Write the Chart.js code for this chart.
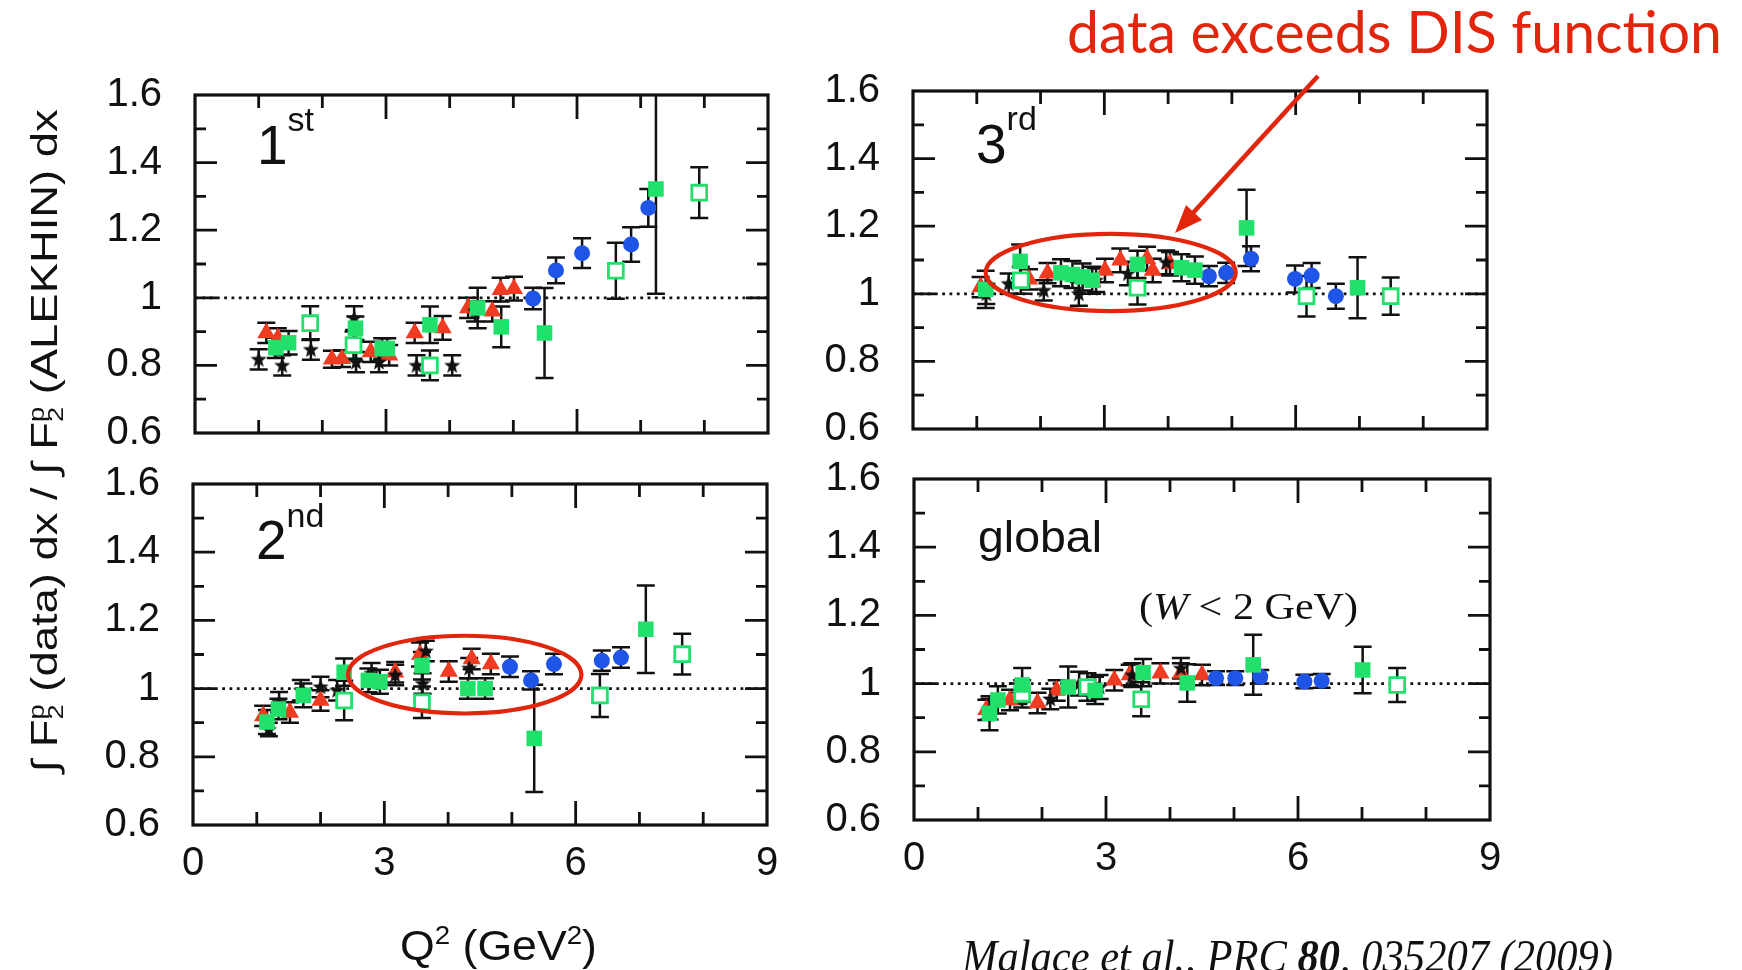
<!DOCTYPE html>
<html>
<head>
<meta charset="utf-8">
<script src="https://cdn.jsdelivr.net/npm/chart.js@4.4.1/dist/chart.umd.min.js"></script>
<style>
  html, body { margin: 0; padding: 0; background: #fff; }
  #page { position: relative; width: 1742px; height: 970px; overflow: hidden; }
  canvas { position: absolute; left: 0; top: 0; }
  .txt { position: absolute; left: 0; top: 0; white-space: nowrap; line-height: 1.15;
         font-family: 'Liberation Sans', Arial, sans-serif; color: #111; }
  .sup { font-size: 0.62em; vertical-align: 0.62em; }
  .serif { font-family: 'Liberation Serif', 'Times New Roman', serif; }
  #arrow { position: absolute; left: 0; top: 0; }
</style>
</head>
<body>
<div id="page">
  <canvas id="c1" width="1742" height="970"></canvas>
  <canvas id="c2" width="1742" height="970"></canvas>
  <canvas id="c3" width="1742" height="970"></canvas>
  <canvas id="c4" width="1742" height="970"></canvas>

  <svg id="arrow" width="1742" height="970">
    <line x1="1318" y1="76" x2="1192" y2="214" stroke="#e1260d" stroke-width="4.5"/>
    <polygon points="1175,233 1202,220 1186,205" fill="#e1260d"/>
  </svg>

  <div class="txt" id="tRed" style="font-family: Lato, 'Open Sans', sans-serif; font-size: 58px; color: #e1260d;">data exceeds DIS function</div>
  <div class="txt" id="tYtitle" style="font-size: 36px;">∫ F<span style="font-size:0.6em; position:relative; top:0.3em;">2</span><span style="font-size:0.6em; position:relative; top:-0.6em; margin-left:-0.56em;">p</span> (data) dx / ∫ F<span style="font-size:0.6em; position:relative; top:0.3em;">2</span><span style="font-size:0.6em; position:relative; top:-0.6em; margin-left:-0.56em;">p</span> (ALEKHIN) dx</div>
  <div class="txt" id="tXtitle" style="font-size: 42px;">Q<span class="sup">2</span> (GeV<span class="sup">2</span>)</div>
  <div class="txt" id="tFirst" style="font-size: 55px;">1<span style="font-size:34px; vertical-align:33px;">st</span></div>
  <div class="txt" id="tThird" style="font-size: 55px;">3<span style="font-size:34px; vertical-align:33px;">rd</span></div>
  <div class="txt" id="tSecond" style="font-size: 55px;">2<span style="font-size:34px; vertical-align:32px;">nd</span></div>
  <div class="txt" id="tGlobal" style="font-size: 44px;">global</div>
  <div class="txt serif" id="tW" style="font-size: 38px;">(<i>W</i> &lt; 2 GeV)</div>
  <div class="txt serif" id="tCite" style="font-size: 46px;"><i>Malace et al., PRC <b>80</b>, 035207 (2009)</i></div>
</div>

<script>
// axis ticks
const xTickValues = [0, 3, 6, 9];
const xTickLabels = ['0', '3', '6', '9'];
const yTickValues = [0.6, 0.8, 1.0, 1.2, 1.4, 1.6];
const yTickLabels = ['0.6', '0.8', '1', '1.2', '1.4', '1.6'];
const refLine = 1.0;

// rows: [Q2 (GeV^2), ratio, error]
// 1st resonance region
const starsFirst = [[1.0, 0.818, 0.03], [1.37, 0.80, 0.03], [1.82, 0.847, 0.03], [2.5, 0.94, 0.035], [2.53, 0.81, 0.03], [2.89, 0.81, 0.03], [3.48, 0.80, 0.03], [4.04, 0.80, 0.03], [4.4, 0.96, 0.03]];
const trianglesFirst = [[1.12, 0.896, 0.03], [1.30, 0.88, 0.03], [2.15, 0.818, 0.025], [2.31, 0.82, 0.025], [2.76, 0.84, 0.03], [3.05, 0.83, 0.03], [3.45, 0.896, 0.03], [3.89, 0.911, 0.035], [4.29, 0.97, 0.03], [4.67, 0.96, 0.03], [4.80, 1.024, 0.035], [5.01, 1.027, 0.035]];
const greenFirst = [[1.27, 0.852, 0.03], [1.47, 0.867, 0.035], [2.52, 0.91, 0.035], [2.94, 0.85, 0.03], [3.02, 0.85, 0.03], [3.69, 0.92, 0.054], [4.44, 0.97, 0.06], [4.81, 0.914, 0.06], [5.49, 0.896, 0.133], [7.24, 1.322, 0.31]];
const openFirst = [[1.81, 0.925, 0.05], [2.49, 0.86, 0.04], [3.69, 0.80, 0.044], [6.61, 1.08, 0.083], [7.92, 1.311, 0.075]];
const blueFirst = [[5.31, 0.998, 0.032], [5.67, 1.081, 0.038], [6.08, 1.132, 0.044], [6.85, 1.158, 0.051], [7.12, 1.266, 0.056]];

// 2nd resonance region
const starsSecond = [[1.19, 0.88, 0.02], [1.35, 0.96, 0.03], [1.69, 0.995, 0.03], [2.0, 1.005, 0.03], [2.26, 0.995, 0.03], [2.8, 1.045, 0.03], [3.17, 1.04, 0.03], [3.65, 1.11, 0.03], [3.6, 1.015, 0.03], [4.33, 1.06, 0.03]];
const trianglesSecond = [[1.1, 0.92, 0.03], [1.52, 0.93, 0.03], [2.0, 0.965, 0.03], [3.17, 1.048, 0.03], [3.56, 1.1, 0.035], [4.01, 1.05, 0.03], [4.37, 1.087, 0.03], [4.67, 1.072, 0.03]];
const greenSecond = [[1.16, 0.902, 0.035], [1.34, 0.94, 0.03], [1.73, 0.98, 0.035], [2.37, 1.048, 0.04], [2.75, 1.024, 0.035], [2.93, 1.02, 0.035], [3.59, 1.067, 0.04], [4.31, 1.0, 0.03], [4.58, 1.0, 0.03], [5.35, 0.854, 0.157], [7.10, 1.174, 0.128]];
const openSecond = [[2.37, 0.965, 0.058], [3.59, 0.96, 0.046], [6.38, 0.98, 0.063], [7.67, 1.101, 0.06]];
const blueSecond = [[4.97, 1.064, 0.03], [5.30, 1.024, 0.027], [5.66, 1.072, 0.03], [6.41, 1.082, 0.03], [6.71, 1.091, 0.03]];

// 3rd resonance region
const starsThird = [[1.15, 1.0, 0.03], [1.5, 1.03, 0.03], [2.05, 1.01, 0.03], [2.6, 1.0, 0.035], [2.87, 1.04, 0.035], [3.37, 1.06, 0.035], [3.97, 1.093, 0.035]];
const trianglesThird = [[1.06, 1.02, 0.03], [1.82, 1.043, 0.03], [2.11, 1.061, 0.03], [3.01, 1.069, 0.035], [3.25, 1.099, 0.035], [3.67, 1.104, 0.035], [3.76, 1.069, 0.035], [4.03, 1.089, 0.035]];
const greenThird = [[1.14, 1.013, 0.055], [1.68, 1.096, 0.05], [2.32, 1.062, 0.04], [2.5, 1.057, 0.04], [2.66, 1.05, 0.04], [2.81, 1.04, 0.04], [3.52, 1.087, 0.04], [4.21, 1.077, 0.04], [4.42, 1.07, 0.04], [5.23, 1.195, 0.113], [6.97, 1.018, 0.09]];
const openThird = [[1.69, 1.04, 0.04], [3.52, 1.018, 0.05], [6.17, 0.993, 0.06], [7.49, 0.993, 0.055]];
const blueThird = [[4.64, 1.052, 0.03], [4.91, 1.062, 0.03], [5.30, 1.104, 0.037], [5.99, 1.044, 0.04], [6.25, 1.054, 0.037], [6.63, 0.993, 0.037]];

// global (W < 2 GeV)
const starsGlobal = [[1.18, 0.925, 0.03], [1.63, 0.97, 0.03], [2.13, 0.955, 0.03], [2.58, 1.0, 0.035], [2.9, 0.99, 0.035], [3.41, 1.025, 0.035], [4.17, 1.045, 0.03]];
const trianglesGlobal = [[1.13, 0.923, 0.03], [1.5, 0.952, 0.03], [1.93, 0.943, 0.03], [2.23, 0.98, 0.03], [3.13, 1.01, 0.03], [3.37, 1.025, 0.03], [3.85, 1.03, 0.03], [4.17, 1.03, 0.03], [4.5, 1.025, 0.03]];
const greenGlobal = [[1.18, 0.913, 0.05], [1.31, 0.952, 0.04], [1.69, 0.996, 0.05], [2.41, 0.99, 0.06], [2.83, 0.98, 0.04], [3.58, 1.032, 0.04], [4.27, 1.002, 0.055], [5.30, 1.055, 0.088], [7.01, 1.04, 0.068]];
const openGlobal = [[1.69, 0.97, 0.04], [2.71, 0.99, 0.04], [3.55, 0.954, 0.05], [7.55, 0.996, 0.05]];
const blueGlobal = [[4.72, 1.016, 0.02], [5.02, 1.016, 0.02], [5.41, 1.02, 0.02], [6.10, 1.006, 0.02], [6.37, 1.008, 0.02]];

const GREEN = '#22e06c';
const BLUE = '#1f55e6';
const RED = '#ef3b22';
const ANNOT = '#e1260d';
const INK = '#111';

// filled black star marker
const starImg = document.createElement('canvas');
starImg.width = 18; starImg.height = 18;
(function () {
  const c = starImg.getContext('2d');
  c.fillStyle = INK;
  c.beginPath();
  for (let i = 0; i < 10; i++) {
    const r = i % 2 === 0 ? 8.5 : 3.6;
    const a = -Math.PI / 2 + i * Math.PI / 5;
    c.lineTo(9 + r * Math.cos(a), 9.5 + r * Math.sin(a));
  }
  c.closePath();
  c.fill();
})();

function series(rows, style) {
  return Object.assign({ data: rows.map(r => ({ x: r[0], y: r[1], e: r[2] })) }, style);
}
const styles = {
  green: { pointStyle: 'rect', pointRadius: 11, backgroundColor: GREEN, borderColor: GREEN, borderWidth: 0 },
  open: { pointStyle: 'rect', pointRadius: 10.5, backgroundColor: '#fff', borderColor: GREEN, borderWidth: 2.8 },
  blue: { pointStyle: 'circle', pointRadius: 8, backgroundColor: BLUE, borderColor: BLUE, borderWidth: 0 },
  star: { pointStyle: starImg, pointRadius: 9 },
  tri: { pointStyle: 'triangle', pointRadius: 10.5, backgroundColor: RED, borderColor: RED, borderWidth: 0 }
};

const framePlugin = {
  id: 'frame',
  beforeDatasetsDraw(chart) {
    const { ctx, chartArea: a, scales: { x, y } } = chart;
    ctx.save();
    ctx.beginPath();
    ctx.rect(a.left, a.top, a.right - a.left, a.bottom - a.top);
    ctx.clip();
    // dotted reference line
    ctx.strokeStyle = INK;
    ctx.lineWidth = 2.8;
    ctx.setLineDash([2.8, 4.5]);
    const yr = y.getPixelForValue(refLine);
    ctx.beginPath(); ctx.moveTo(a.left, yr); ctx.lineTo(a.right, yr); ctx.stroke();
    ctx.setLineDash([]);
    // error bars
    ctx.lineWidth = 2.5;
    chart.data.datasets.forEach(ds => {
      ds.data.forEach(d => {
        const px = x.getPixelForValue(d.x);
        const y0 = y.getPixelForValue(d.y - d.e);
        const y1 = y.getPixelForValue(d.y + d.e);
        ctx.beginPath();
        ctx.moveTo(px, y0); ctx.lineTo(px, y1);
        ctx.moveTo(px - 9, y0); ctx.lineTo(px + 9, y0);
        ctx.moveTo(px - 9, y1); ctx.lineTo(px + 9, y1);
        ctx.stroke();
      });
    });
    ctx.restore();
  },
  afterDatasetsDraw(chart, args, opts) {
    const { ctx, chartArea: a, scales: { x, y } } = chart;
    ctx.save();
    ctx.strokeStyle = INK;
    ctx.lineWidth = 2.8;
    ctx.beginPath();
    for (let v = 1; v < 9; v++) {
      const px = x.getPixelForValue(v);
      const len = v % 3 === 0 ? 24 : 13;
      ctx.moveTo(px, a.bottom); ctx.lineTo(px, a.bottom - len);
      ctx.moveTo(px, a.top); ctx.lineTo(px, a.top + len);
    }
    for (let k = 1; k < 10; k++) {
      const v = 0.6 + k * 0.1;
      const py = y.getPixelForValue(v);
      const len = k % 2 === 0 ? 22 : 11;
      ctx.moveTo(a.left, py); ctx.lineTo(a.left + len, py);
      ctx.moveTo(a.right, py); ctx.lineTo(a.right - len, py);
    }
    ctx.stroke();
    ctx.lineWidth = 3.2;
    ctx.strokeRect(a.left, a.top, a.right - a.left, a.bottom - a.top);
    if (opts.ellipse) {
      const el = opts.ellipse;
      const cx = x.getPixelForValue(el.cx), cy = y.getPixelForValue(el.cy);
      const rx = x.getPixelForValue(el.cx + el.rx) - cx;
      const ry = cy - y.getPixelForValue(el.cy + el.ry);
      ctx.strokeStyle = ANNOT;
      ctx.lineWidth = 4.2;
      ctx.beginPath();
      ctx.ellipse(cx, cy, rx, ry, 0, 0, Math.PI * 2);
      ctx.stroke();
    }
    ctx.restore();
  }
};

const tickFont = { family: "'Liberation Sans', Arial, sans-serif", size: 40 };

function makePanel(id, frame, showX, sets, ellipse) {
  const [l, t, r, b] = frame;
  const xh = showX ? 80 : 0;
  return new Chart(document.getElementById(id), {
    type: 'scatter',
    data: { datasets: sets },
    plugins: [framePlugin],
    options: {
      responsive: false, animation: false, devicePixelRatio: 1, events: [],
      layout: { padding: { left: l - 150, top: t, right: 1742 - r, bottom: 970 - b - xh } },
      plugins: { legend: { display: false }, tooltip: { enabled: false }, frame: { ellipse: ellipse } },
      scales: {
        x: {
          type: 'linear', min: 0, max: 9,
          afterBuildTicks: s => { s.ticks = xTickValues.map(v => ({ value: v })); },
          ticks: { display: showX, autoSkip: false, maxRotation: 0, padding: 15, font: tickFont, color: INK,
                   callback: (v, i) => xTickLabels[i] },
          grid: { display: false, drawTicks: false, tickLength: 0 },
          border: { display: false },
          afterFit: s => { s.height = xh; s.paddingLeft = 0; s.paddingRight = 0; }
        },
        y: {
          type: 'linear', min: 0.6, max: 1.6,
          afterBuildTicks: s => { s.ticks = yTickValues.map(v => ({ value: v })); },
          ticks: { autoSkip: false, padding: 33, font: tickFont, color: INK,
                   callback: (v, i) => yTickLabels[i] },
          grid: { display: false, drawTicks: false, tickLength: 0 },
          border: { display: false },
          afterFit: s => { s.width = 150; s.paddingTop = 0; s.paddingBottom = 0; }
        }
      }
    }
  });
}

function panelSets(stars, tris, green, open, blue) {
  return [series(green, styles.green), series(open, styles.open), series(blue, styles.blue),
          series(stars, styles.star), series(tris, styles.tri)];
}

makePanel('c1', [195, 95, 768, 433], false, panelSets(starsFirst, trianglesFirst, greenFirst, openFirst, blueFirst), null);
makePanel('c2', [913, 91, 1487, 429], false, panelSets(starsThird, trianglesThird, greenThird, openThird, blueThird),
          { cx: 3.10, cy: 1.063, rx: 1.96, ry: 0.114 });
makePanel('c3', [193, 484, 767, 825], true, panelSets(starsSecond, trianglesSecond, greenSecond, openSecond, blueSecond),
          { cx: 4.26, cy: 1.041, rx: 1.83, ry: 0.114 });
makePanel('c4', [914, 479, 1490, 820], true, panelSets(starsGlobal, trianglesGlobal, greenGlobal, openGlobal, blueGlobal), null);

// text placement: left edge, baseline, optional target width
function place(id, x, base, w) {
  const el = document.getElementById(id);
  const m = document.createElement('span');
  m.style.display = 'inline-block'; m.style.width = '0'; m.style.height = '0';
  el.appendChild(m);
  const r = el.getBoundingClientRect();
  const mr = m.getBoundingClientRect();
  const off = mr.top - r.top;
  el.style.left = x + 'px';
  el.style.top = (base - off) + 'px';
  if (w) { el.style.transformOrigin = '0 0'; el.style.transform = 'scaleX(' + (w / r.width) + ')'; }
}
place('tRed', 1067, 53, 655);
place('tXtitle', 400, 960, 197);
place('tFirst', 257, 164);
place('tThird', 976, 163);
place('tSecond', 256, 559);
place('tGlobal', 978, 552, 124);
place('tW', 1139, 619, 219);
place('tCite', 962, 972, 651);

(function () {
  const el = document.getElementById('tYtitle');
  const r = el.getBoundingClientRect();
  const cx = 45, cy = 441, len = 663;
  el.style.left = (cx - r.width / 2) + 'px';
  el.style.top = (cy - r.height / 2) + 'px';
  el.style.transformOrigin = '50% 50%';
  el.style.transform = 'rotate(-90deg) scaleX(' + (len / r.width) + ')';
})();
</script>
</body>
</html>
